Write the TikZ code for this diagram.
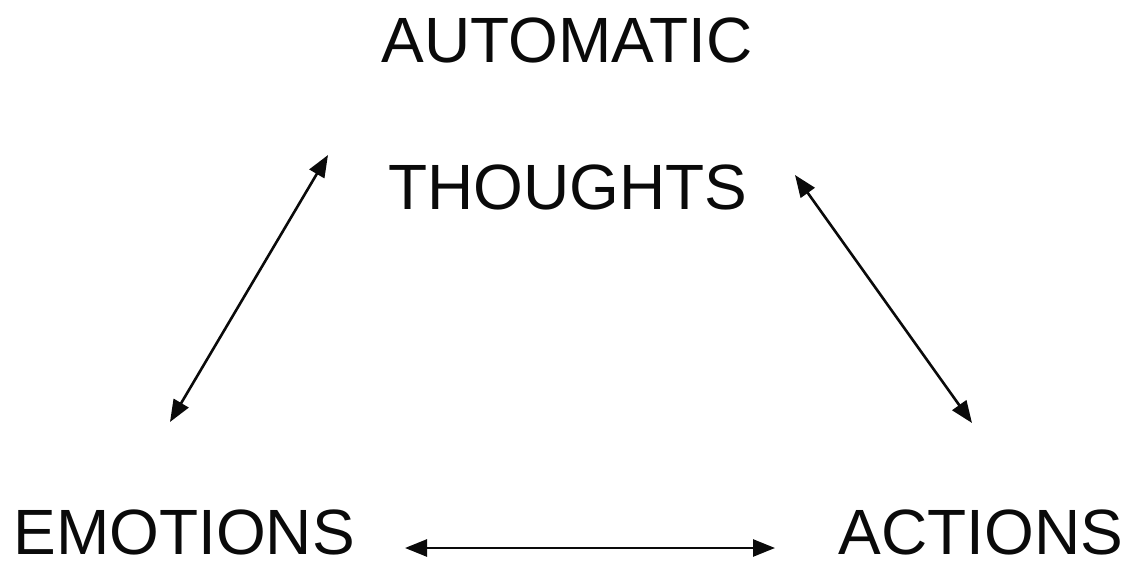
\documentclass[tikz,border=0pt]{standalone}
\usepackage{fontspec}
\setmainfont{Liberation Sans}
\usepackage{tikz}
\usetikzlibrary{arrows.meta}
\definecolor{ink}{RGB}{10, 10, 10}

\begin{document}
\begin{tikzpicture}[x=1pt, y=-1pt,
  word/.style={anchor=base, inner sep=0pt, color=ink, font=\fontsize{64}{70}\selectfont},
  link/.style={line width=2.6pt, color=ink,
    {Triangle[length=22pt, width=17pt]}-{Triangle[length=22pt, width=17pt]}}]

  \useasboundingbox (0, 0) rectangle (1132, 564);

  \node[word] (automatic) at (567, 63)  {AUTOMATIC};
  \node[word] (thoughts)  at (568, 210) {THOUGHTS};
  \node[word] (emotions)  at (184, 554) {EMOTIONS};
  \node[word] (actions)   at (981, 554) {ACTIONS};

  % arrow ends
  \coordinate (thoughts-l) at (328, 155);
  \coordinate (thoughts-r) at (795, 175);
  \coordinate (emotions-t) at (170, 422);
  \coordinate (emotions-r) at (405, 548);
  \coordinate (actions-t)  at (972, 423);
  \coordinate (actions-l)  at (775, 548);

  \draw[link] (emotions-t) -- (thoughts-l);
  \draw[link] (thoughts-r) -- (actions-t);
  \draw[link] (emotions-r) -- (actions-l);

\end{tikzpicture}
\end{document}
